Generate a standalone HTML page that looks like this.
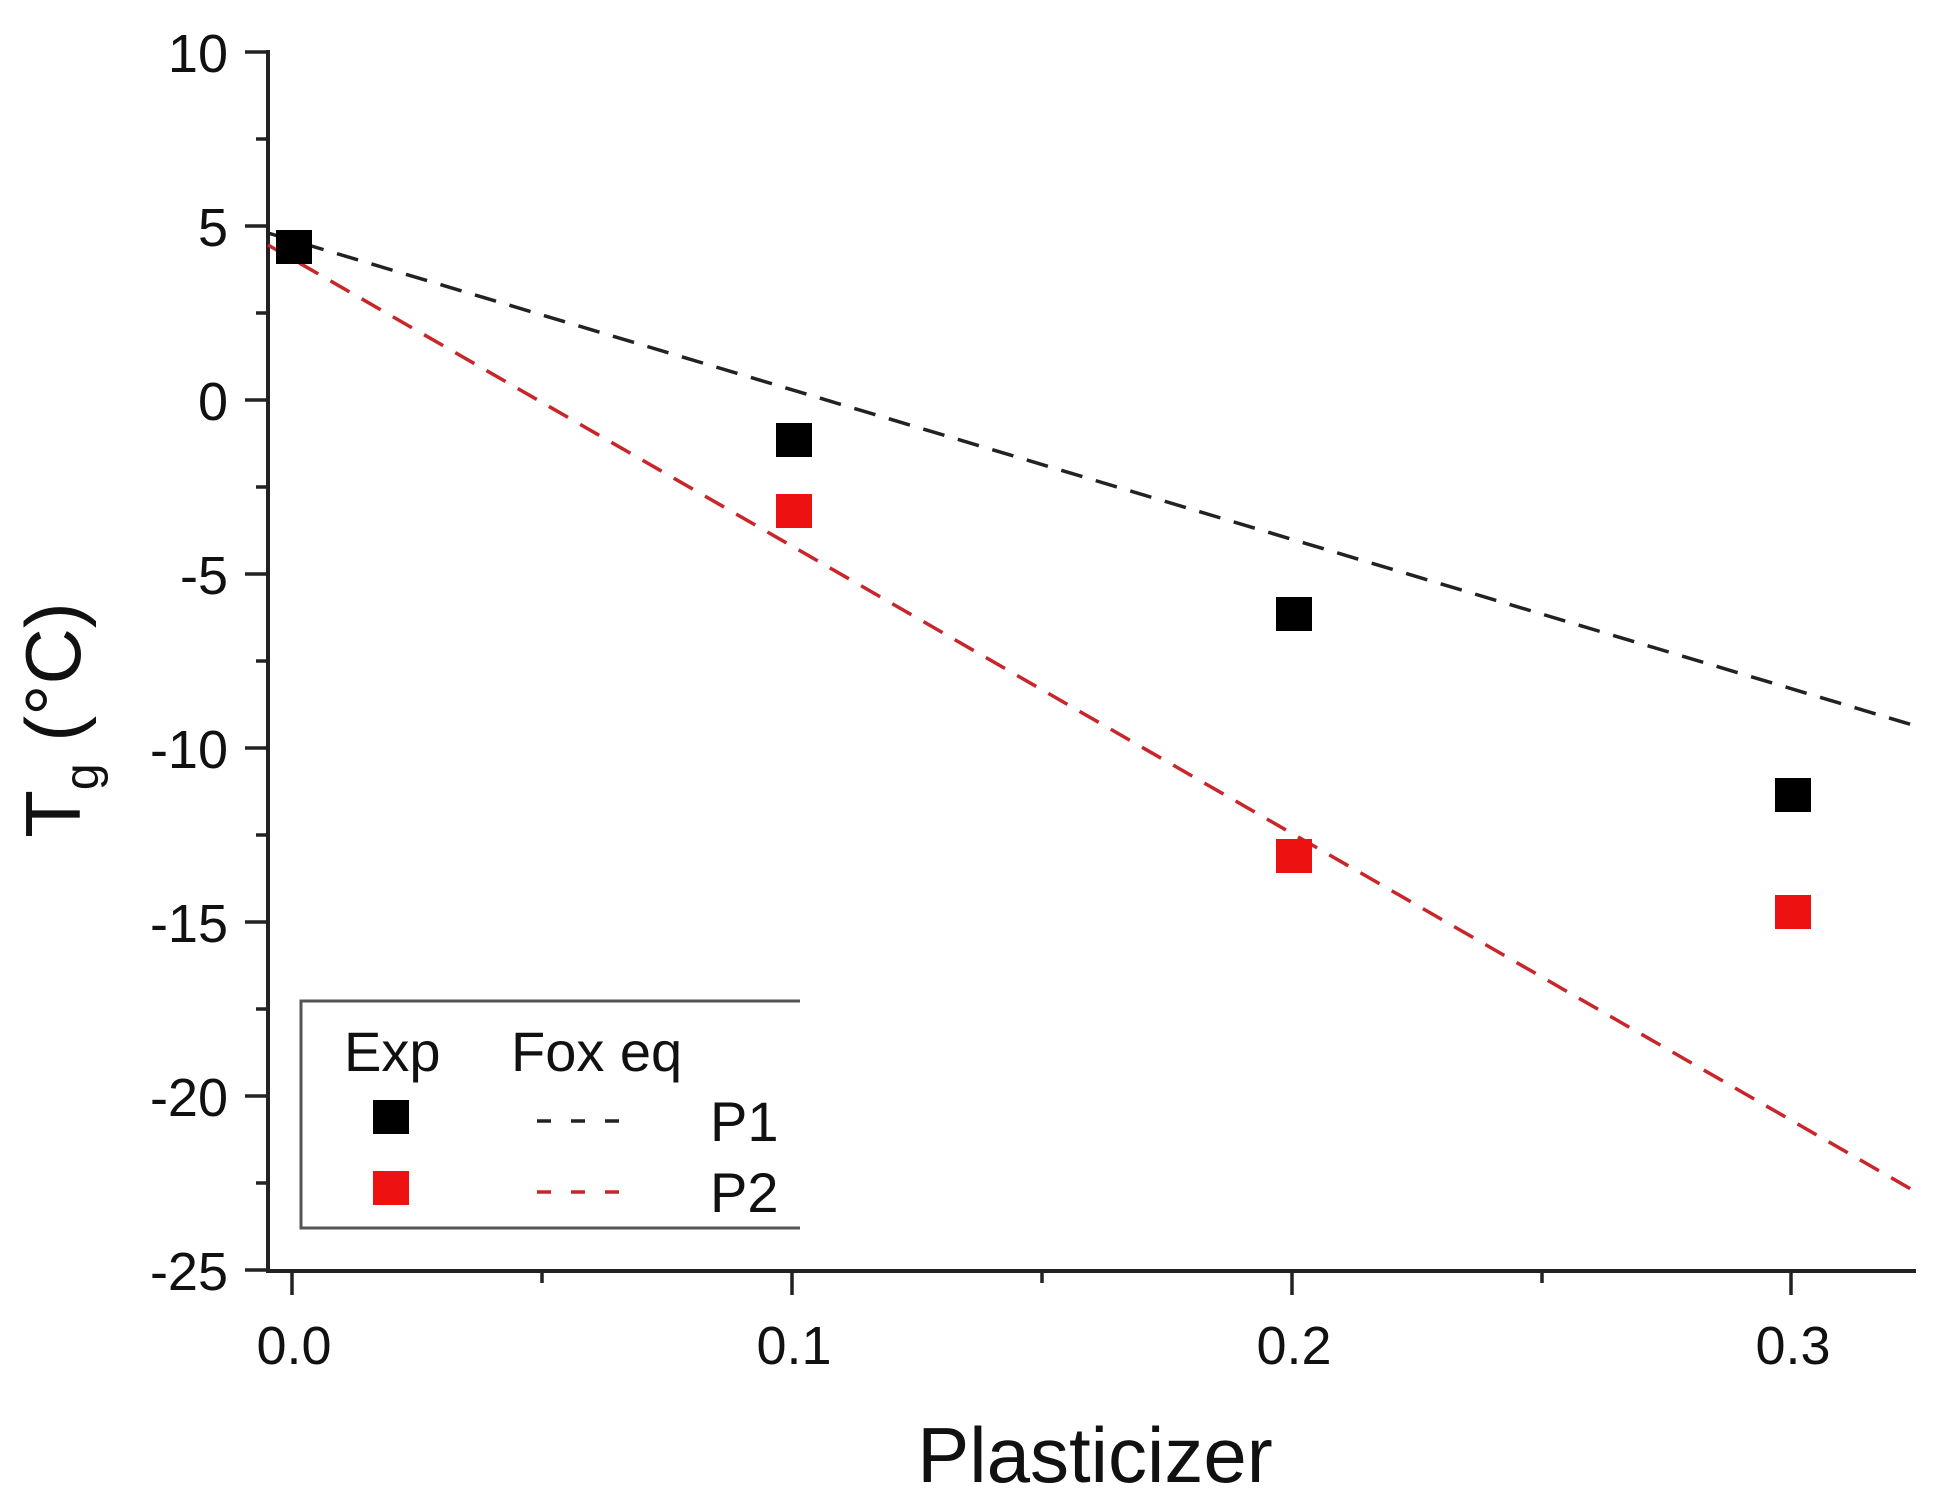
<!DOCTYPE html>
<html><head><meta charset="utf-8"><style>body{margin:0;background:#fff}svg{display:block}text{font-family:"Liberation Sans",sans-serif;fill:#111}</style></head>
<body>
<svg width="1941" height="1505" viewBox="0 0 1941 1505" xmlns="http://www.w3.org/2000/svg">
<line x1="268" y1="50" x2="268" y2="1272" stroke="#222" stroke-width="4"/>
<line x1="266" y1="1271" x2="1916" y2="1271" stroke="#222" stroke-width="4"/>
<g stroke="#222" stroke-width="3.5">
<line x1="245" y1="52" x2="268" y2="52"/><line x1="256" y1="139" x2="268" y2="139"/>
<line x1="245" y1="226" x2="268" y2="226"/><line x1="256" y1="313" x2="268" y2="313"/>
<line x1="245" y1="400" x2="268" y2="400"/><line x1="256" y1="487" x2="268" y2="487"/>
<line x1="245" y1="574" x2="268" y2="574"/><line x1="256" y1="661" x2="268" y2="661"/>
<line x1="245" y1="748" x2="268" y2="748"/><line x1="256" y1="835" x2="268" y2="835"/>
<line x1="245" y1="922" x2="268" y2="922"/><line x1="256" y1="1009" x2="268" y2="1009"/>
<line x1="245" y1="1096" x2="268" y2="1096"/><line x1="256" y1="1183" x2="268" y2="1183"/>
<line x1="245" y1="1270" x2="268" y2="1270"/>
<line x1="292" y1="1271" x2="292" y2="1295"/><line x1="542" y1="1271" x2="542" y2="1283"/>
<line x1="792" y1="1271" x2="792" y2="1295"/><line x1="1042" y1="1271" x2="1042" y2="1283"/>
<line x1="1292" y1="1271" x2="1292" y2="1295"/><line x1="1542" y1="1271" x2="1542" y2="1283"/>
<line x1="1791" y1="1271" x2="1791" y2="1295"/>
</g>
<g font-size="54" text-anchor="end">
<text x="228" y="72">10</text><text x="228" y="246">5</text><text x="228" y="420">0</text>
<text x="228" y="594">-5</text><text x="228" y="768">-10</text><text x="228" y="942">-15</text>
<text x="228" y="1116">-20</text><text x="228" y="1290">-25</text>
</g>
<g font-size="54" text-anchor="middle">
<text x="294" y="1364">0.0</text><text x="794" y="1364">0.1</text><text x="1294" y="1364">0.2</text><text x="1793" y="1364">0.3</text>
</g>
<text x="1095" y="1482" font-size="78" text-anchor="middle">Plasticizer</text>
<text transform="translate(80,720) rotate(-90)" font-size="78" text-anchor="middle">T<tspan font-size="48" dy="18">g</tspan><tspan dy="-18"> (°C)</tspan></text>
<line x1="268" y1="233" x2="1916" y2="726" stroke="#222" stroke-width="3.5" stroke-dasharray="22,14"/>
<line x1="268" y1="245" x2="1916" y2="1192" stroke="#c8262a" stroke-width="3.5" stroke-dasharray="22,14"/>
<g>
<rect x="776" y="494" width="36" height="34" fill="#ee1111"/>
<rect x="1276" y="839" width="36" height="34" fill="#ee1111"/>
<rect x="1775" y="895" width="36" height="34" fill="#ee1111"/>
<rect x="276" y="230" width="36" height="34" fill="#000"/>
<rect x="776" y="423" width="36" height="34" fill="#000"/>
<rect x="1276" y="597" width="36" height="34" fill="#000"/>
<rect x="1775" y="778" width="36" height="34" fill="#000"/>
</g>
<polyline points="800,1001 301,1001 301,1228 800,1228" fill="none" stroke="#555" stroke-width="3"/>
<g font-size="56">
<text x="344" y="1071">Exp</text><text x="511" y="1071">Fox eq</text>
<text x="710" y="1141">P1</text><text x="710" y="1212">P2</text>
</g>
<rect x="373" y="1100" width="36" height="34" fill="#000"/>
<rect x="373" y="1171" width="36" height="34" fill="#ee1111"/>
<line x1="537" y1="1121" x2="628" y2="1121" stroke="#222" stroke-width="3.5" stroke-dasharray="14,20"/>
<line x1="537" y1="1192" x2="628" y2="1192" stroke="#c8262a" stroke-width="3.5" stroke-dasharray="14,20"/>
</svg>
</body></html>
